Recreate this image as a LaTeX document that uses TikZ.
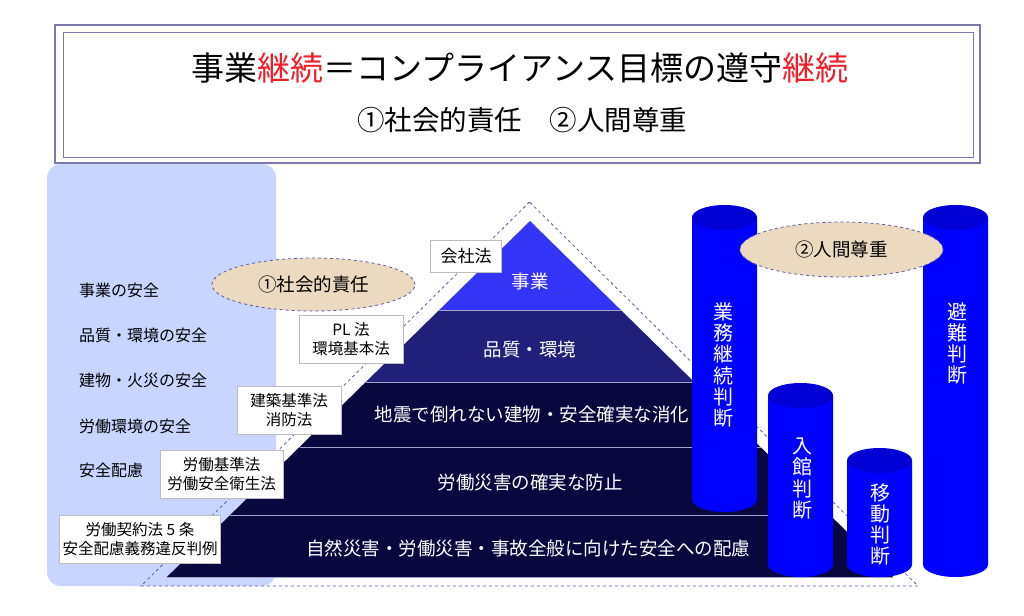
\documentclass[tikz,border=0pt]{standalone}
\usepackage{fontspec}
\setmainfont{Noto Sans CJK JP}
\usetikzlibrary{shapes.geometric}

\definecolor{panelblue}{HTML}{C7D5FF}
\definecolor{frameline}{HTML}{7C78B2}
\definecolor{lawgray}{HTML}{BDBDBD}
\definecolor{ovalfill}{HTML}{EBD9C0}
\definecolor{ovalline}{HTML}{5A5AA8}
\definecolor{cylblue}{HTML}{0000FF}
\definecolor{cyltop}{HTML}{0000D6}
\definecolor{layerA}{HTML}{3434F6}
\definecolor{layerB}{HTML}{20207A}
\definecolor{layerC}{HTML}{08083F}
\definecolor{sepgray}{HTML}{A4A4C8}
\definecolor{titlered}{HTML}{F01E28}

\begin{document}
\begin{tikzpicture}[x=1pt, y=-1pt]
\tikzstyle{lawStyle}=[draw=lawgray, fill=white, line width=0.8pt, align=center, inner sep=0pt, font=\fontsize{15.5}{19}\selectfont]
\tikzstyle{ovalStyle}=[ellipse, draw=ovalline, dashed, line width=0.8pt, fill=ovalfill, inner sep=0pt, font=\fontsize{18.5}{20}\selectfont]
\tikzstyle{cylBody}=[fill=cylblue]
\tikzstyle{cylEnd}=[fill=cyltop]
\tikzstyle{cylText}=[text=white, align=center, font=\fontsize{20}{21.2}\selectfont]
\tikzstyle{layerText}=[text=white, font=\fontsize{18.5}{20}\selectfont]
\tikzstyle{itemStyle}=[anchor=west, inner sep=0pt, font=\fontsize{16}{18}\selectfont]
\useasboundingbox (0,0) rectangle (1024,615);

% title frame
\draw[frameline, line width=1.2pt] (55,25) rectangle (980,163);
\draw[frameline, line width=0.8pt] (63,32) rectangle (973,157);
\node[font=\fontsize{33}{36}\selectfont] (title) at (520,68)
  {事業\textcolor{titlered}{継続}＝コンプライアンス目標の遵守\textcolor{titlered}{継続}};
\node[font=\fontsize{27.5}{30}\selectfont] (subtitle) at (522,120) {①社会的責任　②人間尊重};

% left panel
\fill[panelblue, rounded corners=14pt] (47,164) rectangle (276,586);
\node[itemStyle] (i1) at (79,290) {事業の安全};
\node[itemStyle] (i2) at (79,335) {品質・環境の安全};
\node[itemStyle] (i3) at (79,380) {建物・火災の安全};
\node[itemStyle] (i4) at (79,426) {労働環境の安全};
\node[itemStyle] (i5) at (79,470) {安全配慮};

% pyramid
\draw[ovalline, dashed, line width=0.8pt] (529.5,202) -- (141,586) -- (918,586) -- cycle;
\fill[layerA] (530,221) -- (439.2,310) -- (620.8,310) -- cycle;
\fill[layerB] (439.2,310) -- (365.8,382) -- (694.2,382) -- (620.8,310) -- cycle;
\fill[layerC] (365.8,382) -- (166.9,577) -- (893.1,577) -- (694.2,382) -- cycle;
\draw[sepgray, line width=1pt] (439.2,310) -- (620.8,310);
\draw[sepgray, line width=1pt] (365.8,382) -- (694.2,382);
\draw[sepgray, line width=1pt] (299.5,447) -- (760.5,447);
\draw[sepgray, line width=1pt] (230.1,515) -- (829.9,515);
\draw[sepgray, line width=1pt] (166.9,577) -- (893.1,577);
\node[layerText] (l1) at (530,281) {事業};
\node[layerText] (l2) at (530,350) {品質・環境};
\node[layerText] (l3) at (532,414) {地震で倒れない建物・安全確実な消化};
\node[layerText] (l4) at (530,483) {労働災害の確実な防止};
\node[layerText] (l5) at (528,548) {自然災害・労働災害・事故全般に向けた安全への配慮};

% laws
\node[lawStyle, minimum width=71pt, minimum height=32pt, font=\fontsize{17}{20}\selectfont] (law1) at (466,256) {会社法};
\node[lawStyle, minimum width=104pt, minimum height=48pt] (law2) at (351,339) {PL 法\\環境基本法};
\node[lawStyle, minimum width=104pt, minimum height=48pt] (law3) at (289,410) {建築基準法\\消防法};
\node[lawStyle, minimum width=123pt, minimum height=48pt] (law4) at (221.5,474) {労働基準法\\労働安全衛生法};
\node[lawStyle, minimum width=161pt, minimum height=48pt] (law5) at (140,539) {労働契約法 5 条\\安全配慮義務違反判例};

\node[ovalStyle, minimum width=203pt, minimum height=53pt] (resp) at (313.5,284.5) {①社会的責任};

% cylinders
\fill[cylBody] (692,217.5) -- (692,499.5) arc[start angle=180, end angle=0, x radius=32.5, y radius=12.5] -- (757,217.5) -- cycle;
\fill[cylEnd] (724.5,217.5) ellipse [x radius=32.5, y radius=12.5];
\fill[cylBody] (768,395.5) -- (768,564.5) arc[start angle=180, end angle=0, x radius=32.5, y radius=12.5] -- (833,395.5) -- cycle;
\fill[cylEnd] (800.5,395.5) ellipse [x radius=32.5, y radius=12.5];
\fill[cylBody] (847,460.5) -- (847,564.5) arc[start angle=180, end angle=0, x radius=32.5, y radius=12.5] -- (912,460.5) -- cycle;
\fill[cylEnd] (879.5,460.5) ellipse [x radius=32.5, y radius=12.5];
\fill[cylBody] (923,217.5) -- (923,564.5) arc[start angle=180, end angle=0, x radius=32.5, y radius=12.5] -- (988,217.5) -- cycle;
\fill[cylEnd] (955.5,217.5) ellipse [x radius=32.5, y radius=12.5];
\node[cylText] (t1) at (723,365) {業\\務\\継\\続\\判\\断};
\node[cylText] (t2) at (802,478.5) {入\\館\\判\\断};
\node[cylText] (t3) at (880,524.5) {移\\動\\判\\断};
\node[cylText] (t4) at (957,343.5) {避\\難\\判\\断};

\node[ovalStyle, minimum width=203pt, minimum height=55pt] (human) at (841.5,249.5) {②人間尊重};
\end{tikzpicture}
\end{document}
